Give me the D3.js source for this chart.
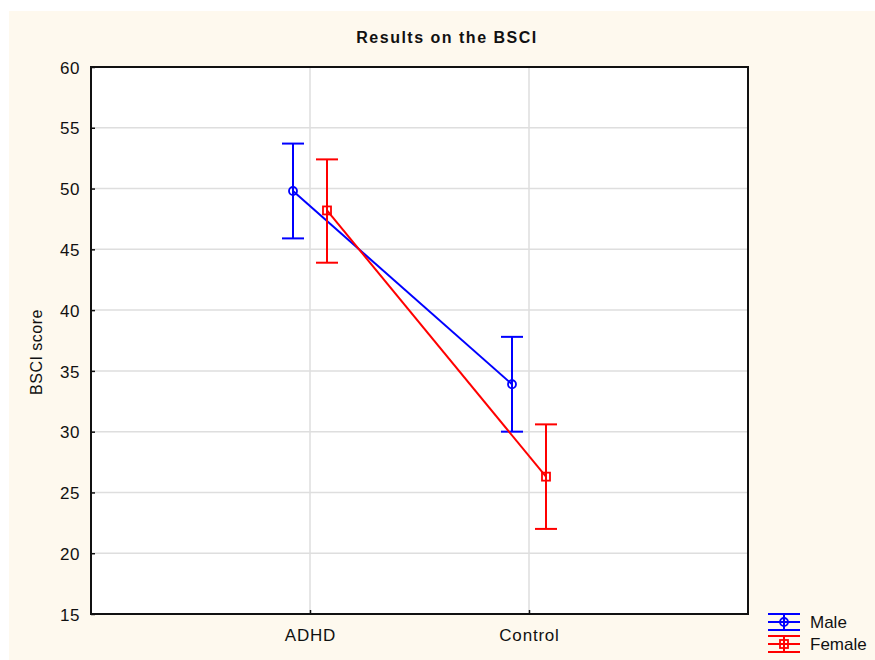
<!DOCTYPE html>
<html>
<head>
<meta charset="utf-8">
<script src="https://cdn.jsdelivr.net/npm/d3@7"></script>
<style>
  body { margin: 0; background: #fff; }
  text { font-family: "Liberation Sans", Arial, sans-serif; fill: #111; }
</style>
</head>
<body>
<svg id="chart" width="875" height="660"></svg>
<script>
// data
const groups = ["ADHD", "Control"];
const seriesNames = ["Male", "Female"];
const maleMean = [49.8, 33.9];
const maleUpper = [53.7, 37.8];
const maleLower = [45.9, 30.0];
const femaleMean = [48.2, 26.3];
const femaleUpper = [52.4, 30.6];
const femaleLower = [43.9, 22.0];
const yTicks = [15, 20, 25, 30, 35, 40, 45, 50, 55, 60];

const series = [
  {name: "Male", color: "#0000ff", marker: "circle", offset: -17, mean: maleMean, up: maleUpper, lo: maleLower},
  {name: "Female", color: "#ff0000", marker: "square", offset: 17, mean: femaleMean, up: femaleUpper, lo: femaleLower}
];

const margin = {top: 67, right: 127, bottom: 46, left: 91},
  width = 875 - margin.left - margin.right,
  height = 660 - margin.top - margin.bottom;

const svg = d3.select("#chart");

// cream background
svg.append("rect")
  .attr("x", 9).attr("y", 11)
  .attr("width", 866).attr("height", 649)
  .attr("fill", "#fef9ee");

// title
svg.append("text")
  .attr("x", 447).attr("y", 43)
  .attr("text-anchor", "middle")
  .style("font-size", "16px")
  .style("font-weight", "bold")
  .style("letter-spacing", "1.5px")
  .text("Results on the BSCI");

const g = svg.append("g")
  .attr("transform", `translate(${margin.left},${margin.top})`);

const x = d3.scalePoint()
  .domain(groups)
  .range([0, width])
  .padding(1);

const y = d3.scaleLinear()
  .domain([15, 60])
  .range([height, 0]);

g.append("rect")
  .attr("width", width).attr("height", height)
  .attr("fill", "#fff");

// grid lines
g.selectAll(".hgrid")
  .data(yTicks.slice(1, -1))
  .enter().append("line")
  .attr("x1", 0).attr("x2", width)
  .attr("y1", d => y(d)).attr("y2", d => y(d))
  .attr("stroke", "#dedede").attr("stroke-width", 1.5);

g.selectAll(".vgrid")
  .data(groups)
  .enter().append("line")
  .attr("x1", d => x(d)).attr("x2", d => x(d))
  .attr("y1", 0).attr("y2", height)
  .attr("stroke", "#dedede").attr("stroke-width", 1.5);

// axes
const yAxis = g.append("g")
  .call(d3.axisLeft(y).tickValues(yTicks).tickSizeInner(-4).tickSizeOuter(0).tickPadding(11));
yAxis.select(".domain").remove();
yAxis.selectAll("line").attr("stroke", "#111").attr("stroke-width", 1.5);
yAxis.selectAll("text").style("font-size", "17px").style("letter-spacing", "0.5px").attr("dy", "0.36em");

const xAxis = g.append("g")
  .attr("transform", `translate(0,${height})`)
  .call(d3.axisBottom(x).tickSizeInner(-4).tickSizeOuter(0).tickPadding(15));
xAxis.select(".domain").remove();
xAxis.selectAll("line").attr("stroke", "#111").attr("stroke-width", 1.5);
xAxis.selectAll("text").style("font-size", "17px").style("letter-spacing", "0.8px");

// plot frame
g.append("rect")
  .attr("width", width).attr("height", height)
  .attr("fill", "none").attr("stroke", "#111").attr("stroke-width", 2);

// y label
svg.append("text")
  .attr("transform", "translate(42,352) rotate(-90)")
  .attr("text-anchor", "middle")
  .style("font-size", "16px")
  .style("letter-spacing", "0.5px")
  .text("BSCI score");

const cap = 11;

function drawMarker(sel, s, cx, cy) {
  if (s.marker === "circle") {
    sel.append("circle").attr("cx", cx).attr("cy", cy).attr("r", 4)
      .attr("fill", "none").attr("stroke", s.color).attr("stroke-width", 1.8);
  } else {
    sel.append("rect").attr("x", cx - 4).attr("y", cy - 4)
      .attr("width", 8).attr("height", 8)
      .attr("fill", "none").attr("stroke", s.color).attr("stroke-width", 1.8);
  }
}

series.forEach(s => {
  const sg = g.append("g");
  const pts = groups.map((c, i) => ({cx: x(c) + s.offset, m: s.mean[i], u: s.up[i], l: s.lo[i]}));

  sg.append("path")
    .datum(pts)
    .attr("fill", "none").attr("stroke", s.color).attr("stroke-width", 2)
    .attr("d", d3.line().x(d => d.cx).y(d => y(d.m)));

  pts.forEach(p => {
    sg.append("line").attr("x1", p.cx).attr("x2", p.cx)
      .attr("y1", y(p.u)).attr("y2", y(p.l))
      .attr("stroke", s.color).attr("stroke-width", 2);
    [p.u, p.l].forEach(v => {
      sg.append("line").attr("x1", p.cx - cap).attr("x2", p.cx + cap)
        .attr("y1", y(v)).attr("y2", y(v))
        .attr("stroke", s.color).attr("stroke-width", 2);
    });
    drawMarker(sg, s, p.cx, y(p.m));
  });
});

// legend
const legend = svg.append("g").attr("transform", "translate(768,622)");
series.forEach((s, i) => {
  const lg = legend.append("g").attr("transform", `translate(0,${i * 22})`);
  [-8, 0, 8].forEach(dy => {
    lg.append("line").attr("x1", 0).attr("x2", 32).attr("y1", dy).attr("y2", dy)
      .attr("stroke", s.color).attr("stroke-width", 2);
  });
  lg.append("line").attr("x1", 16).attr("x2", 16).attr("y1", -8).attr("y2", 8)
    .attr("stroke", s.color).attr("stroke-width", 2);
  drawMarker(lg, s, 16, 0);
  lg.append("text").attr("x", 42).attr("y", 0).attr("dy", "0.36em")
    .style("font-size", "17px")
    .text(s.name);
});
</script>
</body>
</html>
